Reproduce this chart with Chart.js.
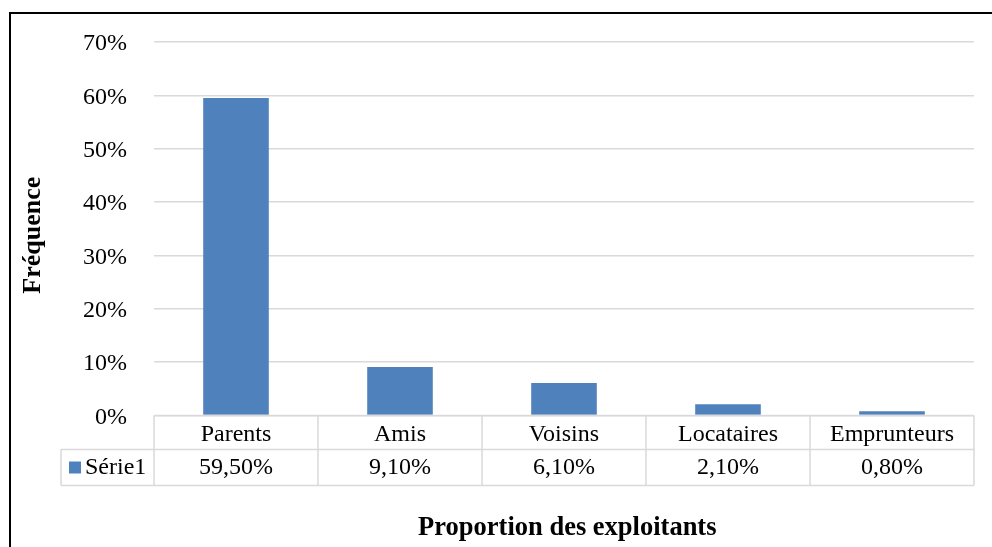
<!DOCTYPE html>
<html><head><meta charset="utf-8">
<script src="https://cdn.jsdelivr.net/npm/chart.js@4"></script>
<style>html,body{margin:0;padding:0;background:#fff}canvas{display:block}</style>
</head><body>
<canvas id="c" width="992" height="547"></canvas>
<script>
const categories = ['Parents', 'Amis', 'Voisins', 'Locataires', 'Emprunteurs'];
const serie1 = [0.595, 0.091, 0.061, 0.021, 0.008];
const seriesName = 'Série1';
const yTitle = 'Fréquence';
const xTitle = 'Proportion des exploitants';

const FONT = "'Liberation Serif', 'Times New Roman', serif";
const BLUE = '#4F81BD';
const GRID = '#d9d9d9';

function pct0(v) { return Math.round(v * 100) + '%'; }
function pct2(v) { return (v * 100).toFixed(2).replace('.', ',') + '%'; }

const frame = {
  id: 'frame',
  beforeDraw(chart) {
    const ctx = chart.ctx;
    ctx.save();
    ctx.fillStyle = '#fff';
    ctx.fillRect(0, 0, chart.width, chart.height);
    ctx.fillStyle = '#000';
    ctx.fillRect(9, 12, 2, chart.height - 12);
    ctx.fillRect(9, 12, chart.width - 9, 2);
    ctx.restore();
  }
};

const dataTable = {
  id: 'dataTable',
  afterDraw(chart) {
    const ctx = chart.ctx;
    const xs = chart.scales.x;
    const n = categories.length;
    const top = chart.chartArea.bottom;
    const r1 = top + 34, r2 = top + 70;
    const left = xs.left, right = xs.right;
    const w = (right - left) / n;
    const legLeft = left - 93;
    ctx.save();
    ctx.strokeStyle = GRID;
    ctx.lineWidth = 1.5;
    ctx.beginPath();
    ctx.moveTo(left, top); ctx.lineTo(right, top);
    ctx.moveTo(legLeft, r1); ctx.lineTo(right, r1);
    ctx.moveTo(legLeft, r2); ctx.lineTo(right, r2);
    ctx.moveTo(legLeft, r1); ctx.lineTo(legLeft, r2);
    for (let i = 0; i <= n; i++) {
      const xx = left + i * w;
      ctx.moveTo(xx, top); ctx.lineTo(xx, r2);
    }
    ctx.stroke();
    ctx.fillStyle = '#000';
    ctx.font = "24px " + FONT;
    ctx.textAlign = 'center';
    ctx.textBaseline = 'middle';
    const cy = (r1 + r2) / 2 + 0.5;
    serie1.forEach((v, i) => {
      ctx.fillText(pct2(v), xs.getPixelForValue(i), cy);
    });
    ctx.fillStyle = BLUE;
    ctx.fillRect(legLeft + 8, cy - 6.5, 12, 12);
    ctx.fillStyle = '#000';
    ctx.textAlign = 'left';
    ctx.fillText(seriesName, legLeft + 24, cy);
    ctx.restore();
  }
};

new Chart(document.getElementById('c'), {
  type: 'bar',
  data: {
    labels: categories,
    datasets: [{
      label: seriesName,
      data: serie1,
      backgroundColor: BLUE,
      borderWidth: 0,
      barPercentage: 0.4,
      categoryPercentage: 1.0
    }]
  },
  options: {
    responsive: false,
    animation: false,
    devicePixelRatio: 1,
    layout: { padding: { left: 0, right: 18, top: 42, bottom: 0 } },
    plugins: { legend: { display: false }, tooltip: { enabled: false } },
    scales: {
      y: {
        min: 0, max: 0.7,
        ticks: { stepSize: 0.1, callback: pct0, color: '#000', padding: 27, labelOffset: 2, font: { family: FONT, size: 24 } },
        grid: { color: GRID, lineWidth: 1.5, drawTicks: false },
        border: { display: false },
        title: { display: true, text: yTitle + '\u00a0\u00a0', color: '#000', padding: { top: 18 }, font: { family: FONT, size: 26, weight: 'bold' } },
        afterFit(s) { s.width = 154; }
      },
      x: {
        ticks: { color: '#000', padding: 5, font: { family: FONT, size: 24 } },
        grid: { display: false, drawTicks: false },
        border: { display: false },
        title: { display: true, text: '\u00a0' + xTitle, color: '#000', padding: { bottom: 3 }, font: { family: FONT, size: 26.5, weight: 'bold' } },
        afterFit(s) { s.height = 131.5; }
      }
    }
  },
  plugins: [frame, dataTable]
});
</script>
</body></html>
